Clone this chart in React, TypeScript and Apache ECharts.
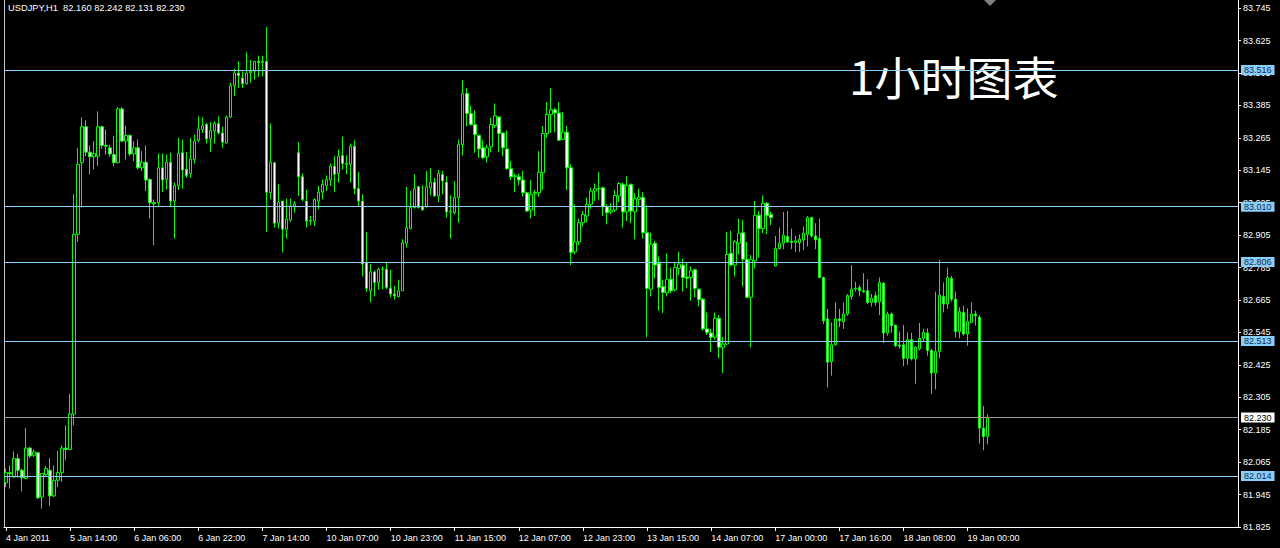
import React, { useEffect, useRef } from "react";
import * as echarts from "echarts";

// ---------- texts ----------
const SYMBOL_TITLE = "USDJPY,H1  82.160 82.242 82.131 82.230";
const BIG_TITLE = "1小时图表";
const MONTHS = ["Jan", "Feb", "Mar", "Apr", "May", "Jun", "Jul", "Aug", "Sep", "Oct", "Nov", "Dec"];

// ---------- axis settings ----------
const START_TIME = Date.UTC(2011, 0, 4, 22); // first hourly bar
const FUTURE_SLOTS = 62; // empty chart-shift area on the right
const LABEL_EVERY = 16; // bars between time labels
const Y_MIN = 81.825;
const Y_MAX = 83.775;
const Y_STEP = 0.12;

// ---------- horizontal levels ----------
const LEVELS_BLUE = [83.516, 83.01, 82.806, 82.513, 82.014];
const LEVEL_PRICE = 82.23;

// ---------- hourly candles: [open, high, low, close] ----------
const CANDLES: number[][] = [
  [81.989, 82.041, 81.973, 82.026], [82.026, 82.053, 81.967, 82.022], [82.010, 82.105, 82.007, 82.078], [82.078, 82.096, 82.007, 82.035],
  [82.035, 82.041, 81.957, 82.007], [82.004, 82.191, 82.002, 82.117], [82.117, 82.121, 82.080, 82.088], [82.090, 82.112, 82.084, 82.103],
  [82.100, 82.100, 81.928, 81.933], [81.936, 82.023, 81.893, 82.023], [82.019, 82.051, 82.014, 82.041], [82.035, 82.080, 81.903, 81.940],
  [81.940, 82.053, 81.936, 81.998], [81.998, 82.107, 81.973, 82.026], [82.026, 82.127, 81.992, 82.117], [82.117, 82.201, 82.072, 82.112],
  [82.112, 82.318, 82.109, 82.243], [82.243, 83.056, 82.201, 82.908], [82.908, 83.228, 82.880, 83.167], [83.173, 83.341, 83.007, 83.306],
  [83.306, 83.330, 83.197, 83.212], [83.212, 83.237, 83.130, 83.195], [83.195, 83.253, 83.148, 83.207], [83.197, 83.363, 83.160, 83.306],
  [83.306, 83.310, 83.224, 83.237], [83.237, 83.296, 83.203, 83.234], [83.228, 83.240, 83.195, 83.205], [83.203, 83.271, 83.160, 83.173],
  [83.173, 83.379, 83.170, 83.372], [83.372, 83.379, 83.249, 83.253], [83.253, 83.310, 83.185, 83.274], [83.274, 83.277, 83.197, 83.205],
  [83.205, 83.253, 83.179, 83.228], [83.228, 83.259, 83.148, 83.154], [83.154, 83.216, 83.142, 83.175], [83.175, 83.237, 83.068, 83.109],
  [83.111, 83.114, 82.966, 83.025], [83.025, 83.037, 82.868, 83.021], [83.025, 83.207, 83.013, 83.154], [83.154, 83.207, 83.064, 83.109],
  [83.111, 83.203, 83.074, 83.175], [83.175, 83.210, 83.010, 83.031], [83.031, 83.099, 82.892, 83.089], [83.089, 83.265, 83.072, 83.207],
  [83.210, 83.259, 83.077, 83.146], [83.148, 83.212, 83.117, 83.126], [83.133, 83.265, 83.117, 83.187], [83.185, 83.277, 83.170, 83.253],
  [83.256, 83.345, 83.249, 83.298], [83.296, 83.342, 83.283, 83.310], [83.314, 83.320, 83.244, 83.261], [83.261, 83.323, 83.212, 83.292],
  [83.290, 83.326, 83.244, 83.318], [83.318, 83.345, 83.277, 83.283], [83.283, 83.306, 83.228, 83.249], [83.246, 83.347, 83.244, 83.342],
  [83.342, 83.468, 83.339, 83.458], [83.458, 83.520, 83.419, 83.505], [83.505, 83.548, 83.449, 83.495], [83.486, 83.511, 83.449, 83.465],
  [83.465, 83.581, 83.462, 83.505], [83.505, 83.554, 83.468, 83.511], [83.511, 83.548, 83.480, 83.548], [83.548, 83.569, 83.490, 83.544],
  [83.544, 83.569, 83.493, 83.548], [83.548, 83.675, 82.917, 83.064], [83.062, 83.318, 83.037, 83.175], [83.173, 83.173, 82.933, 82.949],
  [82.949, 83.093, 82.929, 83.027], [83.031, 83.031, 82.841, 82.927], [82.927, 83.040, 82.892, 82.964], [82.961, 83.040, 82.954, 83.013],
  [83.013, 83.031, 82.988, 83.021], [83.210, 83.249, 83.050, 83.121], [83.121, 83.133, 83.031, 83.037], [83.031, 83.074, 82.933, 82.957],
  [82.957, 82.976, 82.942, 82.960], [82.957, 83.040, 82.939, 83.037], [83.031, 83.087, 83.001, 83.064], [83.064, 83.111, 83.037, 83.093],
  [83.089, 83.126, 83.068, 83.111], [83.109, 83.170, 83.087, 83.160], [83.160, 83.197, 83.064, 83.130], [83.133, 83.222, 83.099, 83.197],
  [83.200, 83.269, 83.148, 83.170], [83.170, 83.200, 83.130, 83.167], [83.167, 83.244, 83.099, 83.234], [83.234, 83.256, 83.056, 83.077],
  [83.077, 83.138, 83.013, 83.031], [83.031, 83.056, 82.752, 82.798], [82.804, 82.917, 82.695, 82.708], [82.699, 82.798, 82.656, 82.769],
  [82.769, 82.773, 82.678, 82.730], [82.730, 82.785, 82.703, 82.779], [82.779, 82.789, 82.705, 82.780], [82.779, 82.804, 82.705, 82.711],
  [82.708, 82.777, 82.675, 82.687], [82.687, 82.718, 82.666, 82.681], [82.678, 82.740, 82.675, 82.699], [82.699, 82.890, 82.699, 82.877],
  [82.875, 83.084, 82.859, 82.933], [82.929, 83.068, 82.927, 83.007], [83.007, 83.130, 83.003, 83.077], [83.084, 83.087, 83.003, 83.007],
  [83.010, 83.089, 82.994, 82.999], [83.010, 83.142, 83.007, 83.084], [83.080, 83.154, 83.052, 83.101], [83.101, 83.117, 83.047, 83.050],
  [83.050, 83.146, 83.027, 83.133], [83.130, 83.142, 83.056, 83.105], [83.101, 83.123, 82.970, 82.991], [82.991, 83.052, 82.892, 82.993],
  [82.988, 83.105, 82.982, 83.044], [83.044, 83.259, 82.951, 83.240], [83.240, 83.478, 83.200, 83.429], [83.429, 83.449, 83.308, 83.355],
  [83.355, 83.384, 83.310, 83.314], [83.314, 83.367, 83.210, 83.277], [83.274, 83.277, 83.191, 83.224], [83.228, 83.256, 83.187, 83.191],
  [83.195, 83.240, 83.173, 83.228], [83.232, 83.339, 83.212, 83.314], [83.310, 83.392, 83.302, 83.347], [83.342, 83.345, 83.212, 83.281],
  [83.283, 83.283, 83.197, 83.228], [83.224, 83.293, 83.146, 83.151], [83.151, 83.179, 83.109, 83.121], [83.121, 83.133, 83.064, 83.125],
  [83.121, 83.133, 83.089, 83.109], [83.109, 83.142, 83.047, 83.062], [83.062, 83.064, 82.991, 82.994], [82.998, 83.109, 82.966, 83.056],
  [83.058, 83.072, 82.976, 83.063], [83.062, 83.216, 83.047, 83.138], [83.136, 83.308, 83.072, 83.281], [83.281, 83.397, 83.265, 83.351],
  [83.351, 83.449, 83.283, 83.369], [83.369, 83.376, 83.286, 83.357], [83.357, 83.397, 83.256, 83.256], [83.259, 83.360, 83.256, 83.286],
  [83.286, 83.310, 83.072, 83.154], [83.154, 83.167, 82.794, 82.841], [82.843, 83.019, 82.834, 82.880], [82.880, 82.966, 82.868, 82.951],
  [82.951, 82.994, 82.937, 82.982], [82.976, 83.044, 82.951, 83.019], [83.019, 83.080, 83.003, 83.068], [83.068, 83.096, 83.031, 83.077],
  [83.077, 83.138, 83.037, 83.076], [83.080, 83.084, 82.976, 83.010], [83.010, 83.019, 82.945, 82.988], [82.991, 83.023, 82.982, 82.998],
  [82.998, 83.072, 82.991, 83.052], [83.050, 83.101, 83.027, 83.096], [83.093, 83.099, 82.933, 82.991], [82.991, 83.123, 82.957, 83.089],
  [83.093, 83.096, 82.949, 82.994], [82.991, 83.060, 82.890, 83.040], [83.037, 83.077, 83.013, 83.045], [83.044, 83.064, 82.892, 82.914],
  [82.914, 83.015, 82.527, 82.708], [82.705, 82.914, 82.678, 82.871], [82.875, 82.884, 82.745, 82.794], [82.801, 82.826, 82.625, 82.711],
  [82.715, 82.740, 82.617, 82.693], [82.691, 82.838, 82.678, 82.742], [82.742, 82.785, 82.691, 82.699], [82.703, 82.804, 82.696, 82.785],
  [82.782, 82.843, 82.757, 82.798], [82.794, 82.818, 82.696, 82.748], [82.750, 82.804, 82.708, 82.745], [82.748, 82.789, 82.662, 82.773],
  [82.777, 82.781, 82.675, 82.708], [82.705, 82.708, 82.641, 82.666], [82.668, 82.671, 82.551, 82.558], [82.558, 82.619, 82.536, 82.545],
  [82.543, 82.558, 82.472, 82.527], [82.527, 82.619, 82.518, 82.597], [82.597, 82.609, 82.449, 82.490], [82.490, 82.527, 82.395, 82.502],
  [82.502, 82.917, 82.499, 82.834], [82.838, 82.921, 82.791, 82.794], [82.794, 82.887, 82.752, 82.880], [82.875, 82.966, 82.834, 82.912],
  [82.914, 82.961, 82.715, 82.816], [82.816, 82.880, 82.671, 82.675], [82.675, 82.831, 82.490, 82.814], [82.810, 83.031, 82.782, 82.978],
  [82.978, 82.994, 82.822, 82.929], [82.929, 83.052, 82.912, 83.023], [83.023, 83.027, 82.908, 82.978], [82.982, 82.991, 82.942, 82.970],
  [82.791, 82.902, 82.789, 82.855], [82.855, 82.933, 82.853, 82.875], [82.875, 82.991, 82.853, 82.905], [82.900, 82.994, 82.877, 82.880],
  [82.882, 82.929, 82.853, 82.878], [82.878, 82.902, 82.843, 82.884], [82.877, 82.908, 82.843, 82.890], [82.887, 82.937, 82.850, 82.912],
  [82.908, 82.976, 82.863, 82.970], [82.970, 82.973, 82.896, 82.902], [82.902, 82.949, 82.853, 82.887], [82.892, 82.966, 82.745, 82.748],
  [82.748, 82.752, 82.576, 82.588], [82.595, 82.632, 82.342, 82.435], [82.437, 82.582, 82.385, 82.499], [82.499, 82.656, 82.496, 82.595],
  [82.595, 82.632, 82.564, 82.588], [82.585, 82.656, 82.558, 82.613], [82.613, 82.687, 82.607, 82.681], [82.678, 82.794, 82.666, 82.705],
  [82.705, 82.732, 82.696, 82.708], [82.711, 82.720, 82.678, 82.699], [82.699, 82.764, 82.691, 82.696], [82.699, 82.742, 82.650, 82.656],
  [82.656, 82.687, 82.641, 82.671], [82.681, 82.696, 82.644, 82.656], [82.658, 82.748, 82.609, 82.730], [82.727, 82.732, 82.506, 82.543],
  [82.543, 82.622, 82.533, 82.613], [82.613, 82.619, 82.545, 82.570], [82.572, 82.572, 82.490, 82.496], [82.498, 82.548, 82.484, 82.494],
  [82.499, 82.572, 82.420, 82.449], [82.449, 82.545, 82.425, 82.518], [82.518, 82.543, 82.441, 82.447], [82.447, 82.494, 82.355, 82.490],
  [82.484, 82.580, 82.478, 82.523], [82.523, 82.558, 82.511, 82.545], [82.543, 82.560, 82.459, 82.478], [82.478, 82.484, 82.318, 82.395],
  [82.395, 82.696, 82.334, 82.474], [82.474, 82.814, 82.449, 82.683], [82.678, 82.730, 82.619, 82.650], [82.650, 82.785, 82.632, 82.748],
  [82.745, 82.754, 82.659, 82.668], [82.668, 82.696, 82.527, 82.548], [82.548, 82.638, 82.523, 82.622], [82.619, 82.644, 82.533, 82.539],
  [82.539, 82.634, 82.496, 82.585], [82.582, 82.656, 82.580, 82.613], [82.613, 82.625, 82.570, 82.607], [82.601, 82.609, 82.133, 82.191],
  [82.191, 82.272, 82.109, 82.160], [82.160, 82.242, 82.131, 82.230],
];

const SMALL_FONT = "'Liberation Sans', Arial, sans-serif";
const CJK_FONT = "'Noto Sans CJK SC', sans-serif";

function buildCategories(n: number): string[] {
  const out: string[] = [];
  let t = START_TIME;
  while (out.length < n) {
    const d = new Date(t);
    const wd = d.getUTCDay();
    const h = d.getUTCHours();
    const closed = wd === 6 || wd === 0 || (wd === 5 && h === 23);
    if (!closed) {
      const mon = MONTHS[d.getUTCMonth()];
      const hh = String(h).padStart(2, "0");
      out.push(out.length === 0 ? `${d.getUTCDate()} ${mon} ${d.getUTCFullYear()}` : `${d.getUTCDate()} ${mon} ${hh}:00`);
    }
    t += 3600000;
  }
  return out;
}

export default function App() {
  const ref = useRef<HTMLDivElement>(null);

  useEffect(() => {
    if (!ref.current) return;
    const chart = echarts.init(ref.current, null, { renderer: "svg" });
    const barCount = CANDLES.length;
    const categories = buildCategories(barCount + FUTURE_SLOTS);
    const showTick = (idx: number) => idx % LABEL_EVERY === 0 && idx < barCount;
    const data = CANDLES.map(([o, h, l, c]) => [o, c, l, h]);

    const levelLabel = (value: number, bg: string, fg: string) => ({
      show: true,
      position: "end",
      distance: 3,
      formatter: value.toFixed(3),
      backgroundColor: bg,
      color: fg,
      padding: [1, 3, 0, 3],
      fontSize: 9,
      fontFamily: SMALL_FONT,
    });

    chart.setOption({
      animation: false,
      backgroundColor: "#000000",
      grid: { left: 4, top: 0, width: 1234, height: 527 },
      xAxis: {
        type: "category",
        data: categories,
        boundaryGap: true,
        axisLine: { show: true, lineStyle: { color: "#ffffff", width: 1 } },
        axisTick: { show: true, alignWithLabel: true, interval: showTick, length: 4, lineStyle: { color: "#ffffff" } },
        axisLabel: {
          interval: showTick,
          color: "#ffffff",
          fontSize: 9,
          fontFamily: SMALL_FONT,
          align: "left",
          margin: 6,
        },
        splitLine: { show: false },
      },
      yAxis: [
        {
          type: "value",
          position: "right",
          min: Y_MIN,
          max: Y_MAX,
          interval: Y_STEP,
          axisLine: { show: true, lineStyle: { color: "#ffffff", width: 1 } },
          axisTick: { show: true, length: 3, lineStyle: { color: "#ffffff" } },
          axisLabel: {
            color: "#ffffff",
            fontSize: 9,
            fontFamily: SMALL_FONT,
            margin: 5,
            showMaxLabel: false,
            formatter: (v: number) => v.toFixed(3),
          },
          splitLine: { show: false },
        },
        {
          type: "value",
          position: "left",
          min: Y_MIN,
          max: Y_MAX,
          axisLine: { show: true, lineStyle: { color: "#c8c8c8", width: 1 } },
          axisTick: { show: false },
          axisLabel: { show: false },
          splitLine: { show: false },
        },
      ],
      series: [
        {
          type: "candlestick",
          yAxisIndex: 0,
          data,
          barWidth: 3,
          itemStyle: {
            color: "#000000",
            color0: "#ffffff",
            borderColor: "#00ff00",
            borderColor0: "#00ff00",
            borderWidth: 1,
          },
          markLine: {
            symbol: "none",
            silent: true,
            animation: false,
            precision: 3,
            data: [
              ...LEVELS_BLUE.map((v) => ({
                yAxis: v,
                lineStyle: { color: "#87cefa", width: 1, type: "solid" },
                label: levelLabel(v, "#87cefa", "#1c2c44"),
              })),
              {
                yAxis: LEVEL_PRICE,
                lineStyle: { color: "#9a9a9a", width: 1, type: "solid" },
                label: levelLabel(LEVEL_PRICE, "#ffffff", "#000000"),
              },
            ],
          },
        },
      ],
      graphic: [
        {
          type: "text",
          left: 8,
          top: 3,
          style: { text: SYMBOL_TITLE, fill: "#ffffff", fontSize: 9.3, fontFamily: SMALL_FONT },
        },
        {
          type: "text",
          x: 849,
          y: 75,
          style: {
            text: BIG_TITLE,
            fill: "#ffffff",
            fontSize: 46,
            fontFamily: CJK_FONT,
            verticalAlign: "middle",
            align: "left",
          },
        },
        {
          type: "polygon",
          shape: { points: [[984, 0], [996, 0], [990, 6]] },
          style: { fill: "#808080" },
        },
      ],
    });

    return () => chart.dispose();
  }, []);

  return (
    <div
      ref={ref}
      style={{ position: "absolute", left: 0, top: 0, width: 1280, height: 548, background: "#000" }}
    />
  );
}
